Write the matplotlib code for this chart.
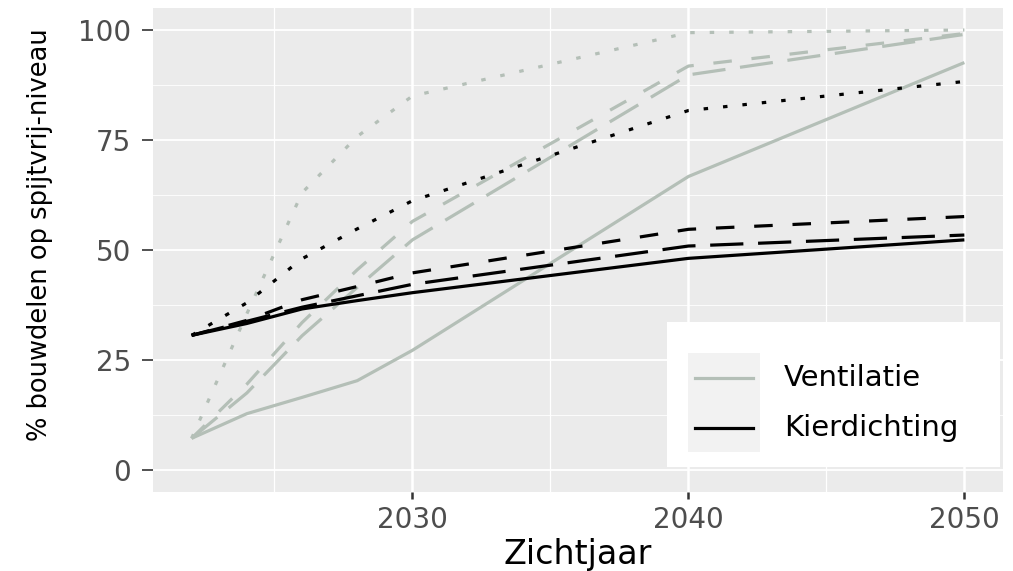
import matplotlib
matplotlib.use("Agg")
import matplotlib.pyplot as plt
from matplotlib.patches import Rectangle
from matplotlib.lines import Line2D

# zichtjaren en scenario's
jaren = [2022, 2024, 2026, 2028, 2030, 2040, 2050]
groepen = ["Ventilatie", "Kierdichting"]

# % bouwdelen op spijtvrij-niveau, per groep en lijntype
vent_solid    = [7.2, 12.8, 16.5, 20.3, 27.2, 66.7, 92.6]
vent_dashed   = [7.2, 19.5, 33.5, 45.5, 56.5, 91.8, 99.2]
vent_longdash = [7.2, 17.5, 30.5, 41.5, 52.3, 89.8, 99.0]
vent_dotted   = [7.2, 35.5, 63.0, 75.8, 85.0, 99.4, 100.0]

kier_solid    = [30.6, 33.3, 36.6, 38.5, 40.3, 48.1, 52.3]
kier_dashed   = [30.6, 34.0, 38.7, 41.7, 44.8, 54.7, 57.6]
kier_longdash = [30.6, 33.8, 37.0, 39.6, 42.2, 50.9, 53.4]
kier_dotted   = [30.6, 38.0, 48.0, 54.8, 61.2, 81.7, 88.3]

x_ticks = [2030, 2040, 2050]
y_ticks = [0, 25, 50, 75, 100]

grijs = "#b4bfb7"
zwart = "#000000"
stijlen = {
    "solid": "-",
    "dashed": (0, (5.8, 6.2)),
    "longdash": (0, (10.4, 4.6)),
    "dotted": (0, (1.4, 4.7)),
}

W, H = 1013, 571
def fx(px):
    return px / W
def fy(py):
    return 1 - py / H

fig = plt.figure(figsize=(W / 100, H / 100), dpi=100)
ax = fig.add_axes([fx(153), fy(492), fx(1003) - fx(153), fy(8) - fy(492)])
ax.set_facecolor("#ebebeb")
for s in ax.spines.values():
    s.set_visible(False)

lw = 2.3
reeksen = [
    (vent_solid, grijs, "solid"), (vent_dashed, grijs, "dashed"),
    (vent_longdash, grijs, "longdash"), (vent_dotted, grijs, "dotted"),
    (kier_solid, zwart, "solid"), (kier_dashed, zwart, "dashed"),
    (kier_longdash, zwart, "longdash"), (kier_dotted, zwart, "dotted"),
]
for waarden, kleur, stijl in reeksen:
    ax.plot(jaren, waarden, color=kleur, lw=lw, linestyle=stijlen[stijl],
            dash_capstyle="butt", solid_capstyle="butt", zorder=3)

ax.set_xlim(2020.6, 2051.4)
ax.set_ylim(-5, 105)
ax.set_xticks(x_ticks)
ax.set_xticks([2025, 2035, 2045], minor=True)
ax.set_yticks(y_ticks)
ax.set_yticks([12.5, 37.5, 62.5, 87.5], minor=True)
ax.grid(which="major", axis="x", color="white", lw=1.8)
ax.grid(which="major", axis="y", color="white", lw=1.3)
ax.grid(which="minor", axis="x", color="white", lw=0.9)
ax.grid(which="minor", axis="y", color="white", lw=0.6)
ax.set_axisbelow(True)

ax.tick_params(axis="x", which="major", length=5, width=1.8, color="#333333",
               pad=5, labelsize=20, labelcolor="#4d4d4d")
ax.tick_params(axis="y", which="major", length=8, width=1.2, color="#333333",
               pad=8, labelsize=20, labelcolor="#4d4d4d")
ax.tick_params(which="minor", length=0)

ax.set_xlabel("Zichtjaar", fontsize=24, labelpad=3)
fig.text(fx(40), fy(235), "% bouwdelen op spijtvrij-niveau", rotation=90,
         fontsize=18.5, ha="center", va="center")

# legenda
fig.add_artist(Rectangle((fx(667), fy(467)), fx(1000) - fx(667), fy(322) - fy(467),
                         transform=fig.transFigure, facecolor="white", edgecolor="none"))
fig.add_artist(Rectangle((fx(688), fy(452)), fx(760) - fx(688), fy(353) - fy(452),
                         transform=fig.transFigure, facecolor="#f2f2f2", edgecolor="none"))
for naam, kleur, py in zip(groepen, [grijs, zwart], [378, 428]):
    fig.add_artist(Line2D([fx(695), fx(753)], [fy(py), fy(py)], color=kleur, lw=lw,
                          transform=fig.transFigure))
    fig.text(fx(784), fy(py), naam, fontsize=21, va="center", ha="left")

fig.savefig("out.png", dpi=100)
